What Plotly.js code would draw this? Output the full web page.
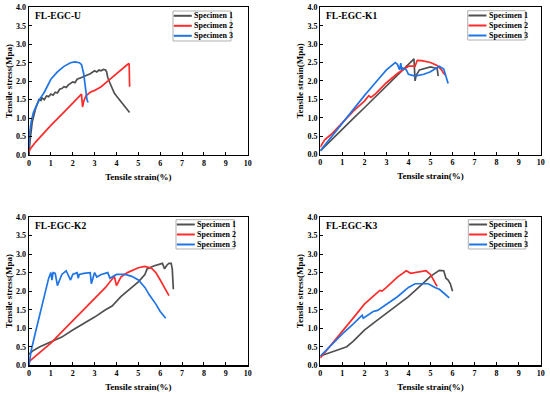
<!DOCTYPE html>
<html><head><meta charset="utf-8">
<script src="https://cdn.plot.ly/plotly-3.0.1.min.js"></script>
<style>html,body{margin:0;padding:0;background:#fff}#chart{width:550px;height:394px}</style>
</head><body><div id="chart"></div>
<script>
// ---- Data (strain %, stress MPa) ----
const seriesNames = ["Specimen 1", "Specimen 2", "Specimen 3"];
const panelTitles = ["FL-EGC-U", "FL-EGC-K1", "FL-EGC-K2", "FL-EGC-K3"];
const yTitles = ["Tensile stress(Mpa)", "Tensile strain(Mpa)", "Tensile stress(Mpa)", "Tensile stress(Mpa)"];
const xTitle = "Tensile strain(%)";

// FL-EGC-U
const u_s1_x = [0,0.05,0.15,0.3,0.45,0.55,0.6,0.7,0.8,0.9,1.0,1.1,1.2,1.3,1.4,1.5,1.6,1.7,1.8,1.9,2.0,2.1,2.2,2.4,2.6,2.8,3.0,3.1,3.2,3.3,3.4,3.5,3.55,3.6,3.7,3.8,3.9,4.0,4.1,4.2,4.3,4.4,4.5,4.6];
const u_s1_y = [0,0.4,0.9,1.25,1.5,1.48,1.55,1.5,1.6,1.58,1.65,1.62,1.7,1.68,1.78,1.8,1.85,1.83,1.9,1.95,1.98,1.96,2.05,2.1,2.15,2.2,2.28,2.25,2.3,2.28,2.32,2.3,2.25,2.1,1.95,1.8,1.68,1.6,1.52,1.45,1.38,1.3,1.22,1.15];
const u_s2_x = [0,0.1,0.3,0.6,1.0,1.5,2.0,2.3,2.4,2.45,2.5,2.6,2.8,3.0,3.3,3.6,4.0,4.3,4.5,4.58,4.6];
const u_s2_y = [0.1,0.2,0.35,0.55,0.8,1.1,1.4,1.6,1.65,1.3,1.45,1.6,1.7,1.75,1.85,2.0,2.2,2.37,2.45,2.48,1.85];
const u_s3_x = [0,0.03,0.1,0.2,0.35,0.5,0.7,1.0,1.3,1.6,1.9,2.1,2.3,2.4,2.5,2.55,2.6,2.65,2.7];
const u_s3_y = [0.2,0.6,0.9,1.15,1.35,1.52,1.7,2.05,2.25,2.4,2.5,2.52,2.5,2.45,2.2,1.9,1.6,1.5,1.42];

// FL-EGC-K1
const k1_s1_x = [0,0.5,1,1.5,2,2.5,3,3.5,4,4.25,4.3,4.35,4.5,4.7,5.0,5.2,5.3,5.35];
const k1_s1_y = [0.1,0.4,0.7,0.98,1.27,1.56,1.85,2.15,2.45,2.6,2.0,2.15,2.3,2.33,2.38,2.35,2.35,2.13];
const k1_s2_x = [0,0.2,0.5,1,1.5,2,2.2,2.3,2.5,3,3.5,4,4.3,4.4,4.6,5.0,5.3,5.5,5.6,5.7];
const k1_s2_y = [0.2,0.4,0.55,0.88,1.18,1.45,1.6,1.55,1.65,1.95,2.2,2.4,2.4,2.56,2.55,2.5,2.42,2.3,2.2,2.15];
const k1_s3_x = [0,0.5,1,1.5,2,2.5,3,3.4,3.5,3.6,3.65,3.7,3.75,3.9,4.0,4.3,4.7,5.0,5.4,5.6,5.7,5.8];
const k1_s3_y = [0.1,0.48,0.85,1.22,1.6,1.95,2.3,2.5,2.45,2.3,2.48,2.3,2.35,2.3,2.18,2.13,2.18,2.25,2.4,2.32,2.15,1.93];

// FL-EGC-K2
const k2_s1_x = [0,0.2,0.5,1,1.5,2,2.5,3,3.5,3.8,4.2,4.5,5,5.3,5.4,5.7,6.0,6.1,6.2,6.3,6.4,6.5,6.55,6.6];
const k2_s1_y = [0.3,0.4,0.5,0.62,0.76,0.95,1.12,1.3,1.5,1.6,1.85,2.0,2.25,2.45,2.6,2.68,2.72,2.75,2.6,2.7,2.75,2.75,2.6,2.05];
const k2_s2_x = [0,0.5,1,1.5,2,2.5,3,3.5,3.9,4.0,4.2,4.5,5,5.3,5.6,5.8,6.0,6.2,6.4];
const k2_s2_y = [0.1,0.35,0.6,0.9,1.2,1.5,1.8,2.1,2.4,2.15,2.38,2.5,2.63,2.67,2.62,2.5,2.3,2.1,1.88];
const k2_s3_x = [0,0.1,0.3,0.5,0.7,0.9,1.0,1.05,1.1,1.2,1.3,1.5,1.7,1.9,2.0,2.2,2.25,2.3,2.5,2.8,2.85,3.0,3.1,3.3,3.6,3.7,4.0,4.4,4.7,5.0,5.3,5.5,5.8,6.0,6.25];
const k2_s3_y = [0,0.4,0.9,1.4,1.85,2.35,2.5,2.3,2.5,2.48,2.15,2.45,2.55,2.3,2.45,2.5,2.35,2.45,2.48,2.5,2.2,2.5,2.38,2.45,2.5,2.35,2.45,2.45,2.4,2.3,2.1,1.9,1.65,1.45,1.27];

// FL-EGC-K3
const k3_s1_x = [0,0.5,1,1.2,1.5,2,2.5,3,3.5,4,4.5,5,5.4,5.6,5.7,5.8,5.9,6.0];
const k3_s1_y = [0.25,0.35,0.45,0.5,0.65,0.95,1.18,1.4,1.62,1.85,2.12,2.4,2.56,2.55,2.35,2.3,2.2,2.0];
const k3_s2_x = [0,0.5,1,1.5,2,2.5,2.7,2.8,3,3.5,3.9,4.1,4.3,4.5,4.8,5.0,5.15,5.3];
const k3_s2_y = [0.2,0.55,0.9,1.28,1.65,1.9,2.02,2.0,2.1,2.38,2.55,2.48,2.5,2.52,2.55,2.45,2.28,2.13];
const k3_s3_x = [0,0.5,1,1.5,1.9,1.95,2.2,2.4,2.6,3,3.5,4,4.3,4.6,4.9,5.2,5.4,5.6,5.85];
const k3_s3_y = [0.25,0.55,0.85,1.12,1.35,1.27,1.38,1.45,1.48,1.65,1.85,2.1,2.2,2.2,2.2,2.1,2.05,1.95,1.82];

const panelData = [
  [[u_s1_x,u_s1_y],[u_s2_x,u_s2_y],[u_s3_x,u_s3_y]],
  [[k1_s1_x,k1_s1_y],[k1_s2_x,k1_s2_y],[k1_s3_x,k1_s3_y]],
  [[k2_s1_x,k2_s1_y],[k2_s2_x,k2_s2_y],[k2_s3_x,k2_s3_y]],
  [[k3_s1_x,k3_s1_y],[k3_s2_x,k3_s2_y],[k3_s3_x,k3_s3_y]]
];
const colors = ["#505050", "#ff2a2a", "#1f74e6"];

// ---- layout geometry ----
const W = 550, H = 394;
const boxes = [ // [left, right, top, bottom] in px
  [29, 247.7, 7.3, 155],
  [320.3, 540.7, 7.3, 154.5],
  [29, 247.7, 217, 365.3],
  [320.3, 540.7, 217, 365.3]
];
// legend frames: [left, top, right, bottom] px
const legendBoxes = [[173, 11, 231, 41], [467.7, 10.7, 525.3, 40], [176, 219.7, 234.3, 249], [468.3, 219.7, 525.7, 249]];

const FONT = "Liberation Serif, Times New Roman, serif";
const px = v => v / W, py = v => (H - v) / H;
const traces = [];
const layout = {
  width: W, height: H, margin: {l:0, r:0, t:0, b:0},
  paper_bgcolor: "#fff", plot_bgcolor: "#fff",
  font: {family: FONT, color: "#000", size: 8, weight: "bold"},
  annotations: [], shapes: [], showlegend: false
};

boxes.forEach((b, i) => {
  const n = i === 0 ? "" : String(i + 1);
  const xa = "x" + n, ya = "y" + n;
  panelData[i].forEach((d, s) => {
    traces.push({
      x: d[0], y: d[1], type: "scatter", mode: "lines",
      name: seriesNames[s], xaxis: xa, yaxis: ya, showlegend: false,
      line: {color: colors[s], width: 1.7}
    });
  });
  const axCommon = {
    showgrid: false, zeroline: false, showline: true, mirror: true,
    linecolor: "#000", linewidth: 1.3, ticks: "inside", ticklen: 3,
    tickcolor: "#000", tickwidth: 1,
    tickfont: {family: FONT, size: 8, weight: "bold", color: "#000"},
    automargin: false, fixedrange: true
  };
  layout["xaxis" + n] = Object.assign({}, axCommon, {
    domain: [px(b[0]), px(b[1])], anchor: ya, range: [0, 10], dtick: 1, tick0: 0,
    title: {text: xTitle, font: {family: FONT, size: 9, weight: "bold"}, standoff: 6}
  });
  layout["yaxis" + n] = Object.assign({}, axCommon, {
    domain: [py(b[3]), py(b[2])], anchor: xa, range: [0, 4], dtick: 0.5, tick0: 0,
    tickformat: ".1f",
    title: {text: yTitles[i], font: {family: FONT, size: 9, weight: "bold"}, standoff: 2}
  });
  // panel label
  layout.annotations.push({
    text: panelTitles[i], xref: "paper", yref: "paper",
    x: px(b[0] + 4), y: py(b[2] + 2), xanchor: "left", yanchor: "top",
    showarrow: false, font: {family: FONT, size: 9.5, weight: "bold", color: "#000"}
  });
  // legend (frame, line samples and labels)
  const L = legendBoxes[i];
  layout.shapes.push({type: "rect", xref: "paper", yref: "paper",
    x0: px(L[0]), x1: px(L[2]), y0: py(L[3]), y1: py(L[1]),
    line: {color: "#b0b0b0", width: 1}, fillcolor: "#fff", layer: "above"});
  seriesNames.forEach((nm, s) => {
    const yy = L[1] + 4.8 + 10 * s;
    layout.shapes.push({type: "line", xref: "paper", yref: "paper",
      x0: px(L[0] + 0.8), x1: px(L[0] + 18.8), y0: py(yy), y1: py(yy),
      line: {color: colors[s], width: 2}, layer: "above"});
    layout.annotations.push({text: nm, xref: "paper", yref: "paper",
      x: px(L[0] + 19), y: py(yy), xanchor: "left", yanchor: "middle",
      showarrow: false, font: {family: FONT, size: 8, weight: "bold", color: "#000"}});
  });
});

Plotly.newPlot("chart", traces, layout, {displayModeBar: false, staticPlot: true});
</script></body></html>
